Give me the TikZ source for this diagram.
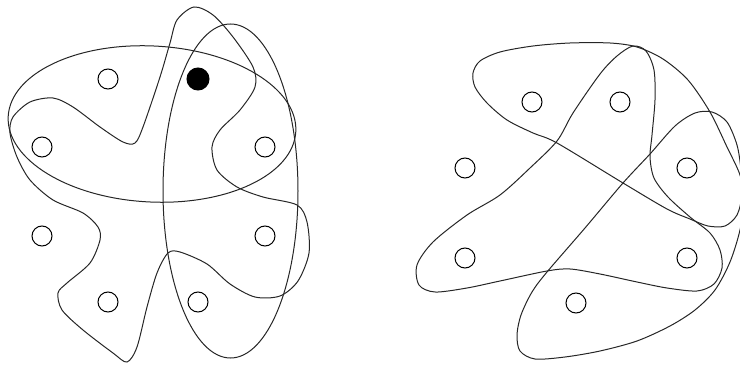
\documentclass[tikz,border=0pt]{standalone}
\usetikzlibrary{positioning}

\begin{document}
\begin{tikzpicture}[
  x=1pt, y=-1pt,
  vtx/.style={draw,circle,line width=1pt,minimum size=20pt,inner sep=0pt},
  vtxon/.style={vtx,fill=black,minimum size=22pt},
  hedge/.style={line width=1pt,black!85},
]
  \useasboundingbox (0,0) rectangle (740,366);

  % Left hypergraph: edges
  \draw[hedge,rotate around={-3:(152,124)}] (152,124) ellipse [x radius=144, y radius=78];
  \draw[hedge] (230.5,191) ellipse [x radius=67.5, y radius=167];
  \draw[hedge] plot[smooth cycle] coordinates {
    (194,7) (177,20) (170,43) (160,77) (143,127) (135,143) (123,142) (100,127)
    (73,107) (53,98) (30,102) (13,117) (10,133) (17,157) (30,180) (53,200)
    (83,213) (98,227) (100,240) (90,263) (67,283) (58,293) (62,310) (83,330)
    (113,353) (127,362) (137,347) (147,307) (157,273) (168,253) (180,252)
    (207,264) (230,284) (255,297) (280,296) (298,281) (309,253) (307,222)
    (297,205) (263,197) (237,187) (217,170) (212,147) (220,130) (240,110)
    (255,87) (253,67) (233,37) (213,15)};

  % Left hypergraph: vertices
  \node[vtx] (a1) at (108,79) {};
  \node[vtxon] (a2) at (198,79) {};
  \node[vtx] (a3) at (42,147) {};
  \node[vtx] (a4) at (265,147) {};
  \node[vtx] (a5) at (42,236) {};
  \node[vtx] (a6) at (265,236) {};
  \node[vtx] (a7) at (108,302) {};
  \node[vtx] (a8) at (198,302) {};

  % Right hypergraph: edges
  \draw[hedge] plot[smooth cycle] coordinates {
    (633,46) (646,51) (654,70) (655,100) (652,135) (650,157) (654,178)
    (668,197) (690,217) (710,233) (720,250) (722,268) (714,284) (697,291)
    (667,288) (637,282) (600,274) (570,269) (547,271) (500,281) (467,288)
    (435,292) (419,285) (417,265) (433,242) (467,215) (500,195) (530,168)
    (557,141) (573,113) (600,74) (617,56)};
  \draw[hedge] plot[smooth cycle] coordinates {
    (473,73) (480,61) (500,52) (533,46) (570,43) (610,43) (637,47) (663,59)
    (688,80) (710,112) (727,147) (740,175) (744,200) (740,230) (730,262)
    (715,290) (695,310) (670,326) (637,341) (600,351) (565,357) (535,359)
    (520,351) (517,335) (521,315) (532,292) (547,272) (585,228) (623,183)
    (650,154) (675,126) (695,113) (712,112) (727,122) (737,145) (741,170)
    (742,195) (737,215) (725,226) (708,226) (690,219) (667,209) (623,183)
    (557,143) (533,133) (507,120) (487,103) (475,87)};

  % Right hypergraph: vertices
  \node[vtx] (b1) at (532,102) {};
  \node[vtx] (b2) at (620,102) {};
  \node[vtx] (b3) at (465,168) {};
  \node[vtx] (b4) at (687,168) {};
  \node[vtx] (b5) at (465,258) {};
  \node[vtx] (b6) at (687,258) {};
  \node[vtx] (b7) at (576,303) {};
\end{tikzpicture}
\end{document}
